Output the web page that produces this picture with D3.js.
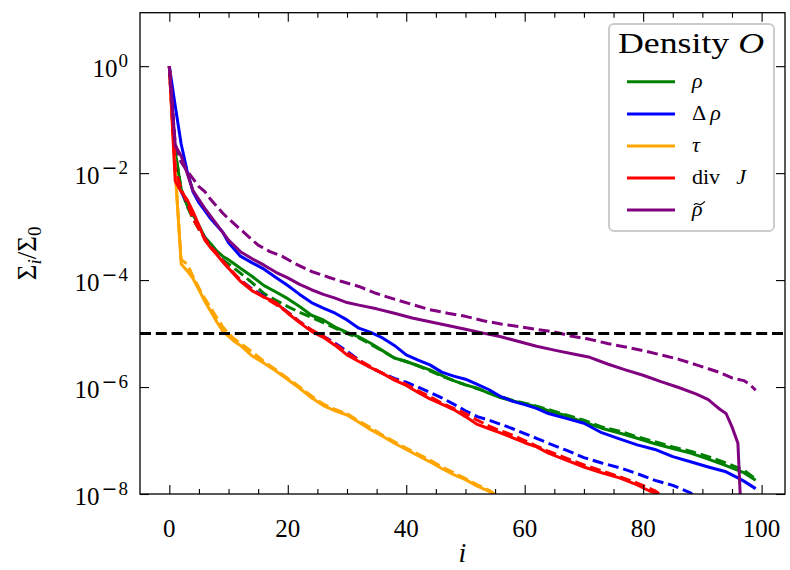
<!DOCTYPE html>
<html>
<head>
<meta charset="utf-8">
<script src="https://cdn.jsdelivr.net/npm/d3@7"></script>
<style>
  body { margin: 0; background: #fff; }
  svg { display: block; }
</style>
</head>
<body>
<svg id="chart" width="790" height="570"></svg>
<script>
// Relative singular values Σ_i/Σ_0 against index i, for each density O.
// Solid: first decomposition, dashed: second decomposition. Pairs are [i, Σ_i/Σ_0].

const rhoSolid = [[0,1],[1,2.5e-2],[2,5.0e-3],[3,2.5e-3],[4,1.66e-3],[5,1.05e-3],[6,6.3e-4],[7,4.8e-4],[8,3.5e-4],[9,2.8e-4],[10,2.4e-4],[12,1.66e-4],[14,1.17e-4],[16,7.9e-5],[18,6.0e-5],[20,4.5e-5],[22,3.2e-5],[24,2.2e-5],[26,1.8e-5],[28,1.32e-5],[30,1.05e-5],[32,8.7e-6],[34,6.6e-6],[36,4.8e-6],[38,3.5e-6],[40,3.0e-6],[42,2.5e-6],[44,2.1e-6],[46,1.66e-6],[48,1.32e-6],[50,1.1e-6],[52,9.5e-7],[54,7.6e-7],[56,6.3e-7],[58,5.5e-7],[60,4.9e-7],[62,4.3e-7],[64,3.6e-7],[67,2.9e-7],[70,2.2e-7],[73,1.7e-7],[76,1.38e-7],[79,1.1e-7],[82,8.7e-8],[85,7.1e-8],[88,5.8e-8],[91,4.5e-8],[94,3.4e-8],[97,2.5e-8],[99,1.8e-8]];
const rhoDashed = [[0,1],[1,2.5e-2],[2,5.0e-3],[3,2.4e-3],[4,1.4e-3],[5,8.9e-4],[6,6.3e-4],[7,4.2e-4],[8,3.2e-4],[9,2.4e-4],[10,2.0e-4],[12,1.35e-4],[14,8.9e-5],[16,5.6e-5],[18,4.2e-5],[20,3.2e-5],[22,2.5e-5],[24,2.0e-5],[26,1.6e-5],[28,1.26e-5],[30,1.0e-5],[32,8.3e-6],[34,6.3e-6],[36,4.7e-6],[38,3.5e-6],[40,3.0e-6],[42,2.5e-6],[44,2.0e-6],[46,1.6e-6],[48,1.32e-6],[50,1.1e-6],[52,9.3e-7],[54,7.9e-7],[56,6.6e-7],[58,5.6e-7],[60,5.0e-7],[62,4.4e-7],[64,3.8e-7],[67,3.0e-7],[70,2.4e-7],[73,1.8e-7],[76,1.5e-7],[79,1.17e-7],[82,9.5e-8],[85,7.6e-8],[88,6.3e-8],[91,5.0e-8],[94,3.8e-8],[97,2.8e-8],[99,1.9e-8]];

const dRhoSolid = [[0,1],[1,1.8e-1],[2,3.5e-2],[3,1.1e-2],[4,4.5e-3],[5,2.8e-3],[6,2.0e-3],[7,1.4e-3],[8,1.05e-3],[9,7.9e-4],[10,5.0e-4],[12,2.8e-4],[14,2.1e-4],[16,1.6e-4],[18,1.12e-4],[20,7.9e-5],[22,5.4e-5],[24,3.8e-5],[26,3.0e-5],[28,2.4e-5],[30,1.8e-5],[32,1.26e-5],[34,1.05e-5],[36,8.3e-6],[38,6.0e-6],[40,4.0e-6],[42,3.2e-6],[44,2.6e-6],[46,1.9e-6],[48,1.6e-6],[50,1.4e-6],[52,1.12e-6],[54,8.9e-7],[56,6.6e-7],[58,5.4e-7],[60,4.7e-7],[62,4.0e-7],[64,3.2e-7],[67,2.6e-7],[70,2.1e-7],[73,1.4e-7],[76,1.07e-7],[79,8.3e-8],[82,6.8e-8],[85,5.0e-8],[88,4.0e-8],[91,3.2e-8],[94,2.6e-8],[96,2.0e-8],[97,1.74e-8],[99,1.26e-8]];
const dRhoDashed = [[0,1],[1,1.26e-2],[2,4.5e-3],[3,2.8e-3],[4,1.6e-3],[5,1.0e-3],[6,6.0e-4],[7,4.2e-4],[8,3.2e-4],[9,2.3e-4],[10,1.66e-4],[12,1.0e-4],[14,6.8e-5],[16,5.0e-5],[18,3.7e-5],[20,2.5e-5],[22,1.66e-5],[24,1.15e-5],[26,8.9e-6],[28,6.6e-6],[30,4.7e-6],[32,3.2e-6],[34,2.3e-6],[36,1.8e-6],[38,1.45e-6],[40,1.23e-6],[42,1.0e-6],[44,7.9e-7],[46,6.3e-7],[48,4.8e-7],[50,3.6e-7],[52,2.8e-7],[54,2.4e-7],[56,2.0e-7],[58,1.66e-7],[60,1.35e-7],[62,1.1e-7],[64,8.9e-8],[67,6.6e-8],[70,4.8e-8],[73,3.8e-8],[76,3.1e-8],[79,2.4e-8],[82,1.8e-8],[85,1.45e-8],[88,1.05e-8],[89,7.9e-9]];

const tauSolid = [[0,1],[1,1.1e-2],[2,2.0e-4],[3,1.5e-4],[4,1.07e-4],[5,6.6e-5],[6,4.0e-5],[7,2.6e-5],[8,1.66e-5],[9,1.12e-5],[10,8.9e-6],[11,7.1e-6],[12,6.0e-6],[14,3.8e-6],[16,2.8e-6],[18,2.0e-6],[20,1.38e-6],[22,9.5e-7],[24,6.3e-7],[26,4.5e-7],[28,3.6e-7],[30,3.0e-7],[32,2.2e-7],[34,1.6e-7],[36,1.2e-7],[38,8.9e-8],[40,6.8e-8],[42,5.2e-8],[44,4.0e-8],[46,3.0e-8],[48,2.3e-8],[50,1.86e-8],[52,1.4e-8],[54,1.12e-8],[56,7.9e-9]];
const tauDashed = [[0,1],[1,1.1e-2],[2,2.4e-4],[3,2.0e-4],[4,1.17e-4],[5,7.1e-5],[6,4.5e-5],[7,3.0e-5],[8,2.0e-5],[9,1.35e-5],[10,1.0e-5],[11,7.9e-6],[12,6.6e-6],[14,4.5e-6],[16,3.0e-6],[18,2.1e-6],[20,1.45e-6],[22,1.0e-6],[24,6.8e-7],[26,4.8e-7],[28,3.8e-7],[30,3.2e-7],[32,2.3e-7],[34,1.74e-7],[36,1.26e-7],[38,9.5e-8],[40,7.2e-8],[42,5.6e-8],[44,4.3e-8],[46,3.2e-8],[48,2.5e-8],[50,1.95e-8],[52,1.48e-8],[54,1.17e-8],[56,8.3e-9]];

const divJSolid = [[0,1],[1,7.1e-3],[2,4.5e-3],[3,3.2e-3],[4,1.9e-3],[5,1.05e-3],[6,5.6e-4],[7,4.0e-4],[8,3.0e-4],[9,2.2e-4],[10,1.66e-4],[12,9.5e-5],[14,6.3e-5],[16,4.8e-5],[18,3.8e-5],[20,2.4e-5],[22,1.6e-5],[24,1.1e-5],[26,8.5e-6],[28,6.0e-6],[30,4.0e-6],[32,3.0e-6],[34,2.3e-6],[36,1.8e-6],[38,1.35e-6],[40,1.07e-6],[42,7.9e-7],[44,6.0e-7],[46,4.8e-7],[48,3.8e-7],[50,2.8e-7],[52,2.0e-7],[54,1.66e-7],[56,1.38e-7],[58,1.12e-7],[60,9.1e-8],[62,7.6e-8],[64,5.8e-8],[67,4.3e-8],[70,3.2e-8],[73,2.5e-8],[76,2.0e-8],[79,1.48e-8],[81,1.15e-8],[82,1.05e-8],[83,7.9e-9]];
const divJDashed = [[0,1],[1,1.26e-2],[2,5.0e-3],[3,2.8e-3],[4,1.4e-3],[5,8.9e-4],[6,6.0e-4],[7,4.2e-4],[8,3.2e-4],[9,2.3e-4],[10,1.74e-4],[12,1.0e-4],[14,6.6e-5],[16,4.8e-5],[18,3.5e-5],[20,2.5e-5],[22,1.66e-5],[24,1.17e-5],[26,8.9e-6],[28,6.3e-6],[30,4.4e-6],[32,3.2e-6],[34,2.4e-6],[36,1.8e-6],[38,1.4e-6],[40,1.12e-6],[42,8.5e-7],[44,6.6e-7],[46,5.0e-7],[48,4.0e-7],[50,3.2e-7],[52,2.4e-7],[54,1.86e-7],[56,1.5e-7],[58,1.26e-7],[60,1.0e-7],[62,7.9e-8],[64,6.3e-8],[67,4.7e-8],[70,3.5e-8],[73,2.7e-8],[76,2.1e-8],[79,1.6e-8],[82,1.15e-8],[84,7.9e-9]];

const rhoTildeSolid = [[0,1],[1,3.3e-2],[2,2.1e-2],[3,1.0e-2],[4,4.7e-3],[5,3.2e-3],[6,2.2e-3],[8,1.1e-3],[10,5.6e-4],[12,3.4e-4],[14,2.5e-4],[16,1.9e-4],[18,1.4e-4],[20,1.1e-4],[22,8.3e-5],[24,6.6e-5],[26,5.4e-5],[28,4.6e-5],[30,3.8e-5],[32,3.4e-5],[35,2.9e-5],[38,2.4e-5],[41,1.95e-5],[44,1.66e-5],[47,1.41e-5],[50,1.2e-5],[53,1.02e-5],[56,8.7e-6],[59,7.1e-6],[62,5.8e-6],[65,4.9e-6],[68,4.2e-6],[71,3.6e-6],[74,2.7e-6],[77,2.1e-6],[80,1.66e-6],[83,1.26e-6],[86,9.8e-7],[89,7.4e-7],[91,5.8e-7],[92,4.7e-7],[93,3.8e-7],[94,3.2e-7],[95,1.8e-7],[96,8.9e-8],[97,3e-10]];
const rhoTildeDashed = [[0,1],[1,3.5e-2],[2,1.6e-2],[3,1.1e-2],[4,7.9e-3],[5,5.6e-3],[6,4.5e-3],[7,3.2e-3],[8,2.4e-3],[9,1.8e-3],[10,1.4e-3],[12,8.9e-4],[13,7.1e-4],[15,4.5e-4],[17,3.4e-4],[19,2.8e-4],[21,2.1e-4],[24,1.45e-4],[27,1.12e-4],[29,9.5e-5],[32,7.6e-5],[35,5.6e-5],[38,4.4e-5],[41,3.5e-5],[44,2.8e-5],[47,2.4e-5],[50,2.1e-5],[53,1.74e-5],[56,1.51e-5],[59,1.35e-5],[62,1.2e-5],[65,1.07e-5],[68,8.9e-6],[71,7.8e-6],[74,6.5e-6],[77,5.6e-6],[80,4.8e-6],[83,4.0e-6],[86,3.3e-6],[89,2.6e-6],[91,2.2e-6],[93,1.86e-6],[95,1.48e-6],[97,1.32e-6],[98,1.12e-6],[99,8.7e-7]];

const xTicks = [0, 20, 40, 60, 80, 100];
const xMinorTicks = [5, 10, 15, 25, 30, 35, 45, 50, 55, 65, 70, 75, 85, 90, 95];
const yTicks = [1, 1e-2, 1e-4, 1e-6, 1e-8];
const threshold = 1e-5;

// Series in drawing order
const densities = [
  { key: "rho",      solid: rhoSolid,      dashed: rhoDashed },
  { key: "dRho",     solid: dRhoSolid,     dashed: dRhoDashed },
  { key: "tau",      solid: tauSolid,      dashed: tauDashed },
  { key: "divJ",     solid: divJSolid,     dashed: divJDashed },
  { key: "rhoTilde", solid: rhoTildeSolid, dashed: rhoTildeDashed }
];
const colors = { rho: "green", dRho: "blue", tau: "orange", divJ: "red", rhoTilde: "purple" };

// ---------- layout ----------
const plot = { left: 140, right: 785, top: 12.7, bottom: 494 };
const serif = "'Liberation Serif', 'Times New Roman', serif";
const lineW = 3;
const dash = "11,4.8";

const x = d3.scaleLinear().domain([-4.95, 103.95]).range([plot.left, plot.right]);
const y = d3.scaleLog().domain([1e-8, 10]).range([plot.bottom, plot.top]);

const svg = d3.select("#chart");
svg.append("rect").attr("width", 790).attr("height", 570).attr("fill", "#fff");

svg.append("defs").append("clipPath").attr("id", "plotClip")
  .append("rect")
  .attr("x", plot.left).attr("y", plot.top)
  .attr("width", plot.right - plot.left).attr("height", plot.bottom - plot.top);

const line = d3.line().x(d => x(d[0])).y(d => y(d[1]));
const lines = svg.append("g").attr("clip-path", "url(#plotClip)");

densities.forEach(s => {
  lines.append("path").datum(s.solid)
    .attr("d", line).attr("fill", "none")
    .attr("stroke", colors[s.key]).attr("stroke-width", lineW)
    .attr("stroke-linejoin", "round");
  lines.append("path").datum(s.dashed)
    .attr("d", line).attr("fill", "none")
    .attr("stroke", colors[s.key]).attr("stroke-width", lineW)
    .attr("stroke-dasharray", dash)
    .attr("stroke-linejoin", "round");
});

// truncation level
lines.append("path")
  .datum(x.domain().map(v => [v, threshold]))
  .attr("d", line).attr("fill", "none")
  .attr("stroke", "#000").attr("stroke-width", 3)
  .attr("stroke-dasharray", dash);

// ---------- axes: inward ticks on all four sides ----------
function tickGroup(axis, tx, ty) {
  const g = svg.append("g").attr("transform", `translate(${tx},${ty})`).call(axis);
  g.select(".domain").remove();
  g.selectAll(".tick line").attr("stroke", "#000").attr("stroke-width", 1.1);
  g.selectAll(".tick text").remove();
  return g;
}
tickGroup(d3.axisBottom(x).tickValues(xTicks).tickSize(-9), 0, plot.bottom);
tickGroup(d3.axisBottom(x).tickValues(xMinorTicks).tickSize(-5), 0, plot.bottom);
tickGroup(d3.axisTop(x).tickValues(xTicks).tickSize(-9), 0, plot.top);
tickGroup(d3.axisTop(x).tickValues(xMinorTicks).tickSize(-5), 0, plot.top);
tickGroup(d3.axisLeft(y).tickValues(yTicks).tickSize(-9), plot.left, 0);
tickGroup(d3.axisRight(y).tickValues(yTicks).tickSize(-9), plot.right, 0);

// frame
svg.append("rect")
  .attr("x", plot.left).attr("y", plot.top)
  .attr("width", plot.right - plot.left).attr("height", plot.bottom - plot.top)
  .attr("fill", "none").attr("stroke", "#000").attr("stroke-width", 1.3);

// x tick labels
svg.append("g").selectAll("text").data(xTicks).join("text")
  .attr("x", d => x(d)).attr("y", 537)
  .attr("text-anchor", "middle")
  .attr("font-family", serif).attr("font-size", 25)
  .text(d => d);

// y tick labels as powers of ten
const yLab = svg.append("g").selectAll("text").data(yTicks).join("text")
  .attr("x", 128).attr("y", d => y(d) + 11)
  .attr("text-anchor", "end")
  .attr("font-family", serif).attr("font-size", 25);
yLab.append("tspan").text("10");
yLab.each(function (d) {
  const e = Math.round(Math.log10(d));
  const t = d3.select(this);
  if (e < 0) {
    t.append("tspan").attr("dy", -10).attr("dx", 2).attr("font-size", 19)
      .attr("font-family", "'DejaVu Sans', sans-serif").text("\u2212");
    t.append("tspan").attr("dx", 1).attr("font-size", 19).text(-e);
  } else {
    t.append("tspan").attr("dy", -10).attr("dx", 1).attr("font-size", 19).text(e);
  }
});

// axis titles
svg.append("text")
  .attr("x", (x(0) + x(100)) / 2 - 3).attr("y", 562)
  .attr("text-anchor", "middle")
  .attr("font-family", serif).attr("font-size", 28).attr("font-style", "italic")
  .text("i");

const yTitle = svg.append("text")
  .attr("transform", `translate(36,${(plot.top + plot.bottom) / 2}) rotate(-90)`)
  .attr("text-anchor", "middle")
  .attr("font-family", serif).attr("font-size", 27);
yTitle.append("tspan").text("\u03A3");
yTitle.append("tspan").attr("font-size", 19).attr("font-style", "italic").attr("dy", 5).text("i");
yTitle.append("tspan").attr("dy", -5).text("/\u03A3");
yTitle.append("tspan").attr("font-size", 19).attr("dy", 5).text("0");

// ---------- legend ----------
const legend = svg.append("g");
legend.append("rect")
  .attr("x", 609).attr("y", 24).attr("width", 165).attr("height", 207)
  .attr("rx", 5).attr("fill", "#fff").attr("fill-opacity", 0.85)
  .attr("stroke", "#cccccc").attr("stroke-width", 2);

const title = legend.append("text")
  .attr("x", 618).attr("y", 53)
  .attr("font-family", serif).attr("font-size", 30)
  .attr("textLength", 146).attr("lengthAdjust", "spacingAndGlyphs");
title.append("tspan").text("Density ");
title.append("tspan").attr("font-style", "italic").text("O");

const rowY = [81.7, 114, 146, 178, 210];
const labelX = 692;
densities.forEach((s, k) => {
  const yy = rowY[k];
  legend.append("line")
    .attr("x1", 627).attr("x2", 675).attr("y1", yy).attr("y2", yy)
    .attr("stroke", colors[s.key]).attr("stroke-width", 3);
  const t = legend.append("text")
    .attr("x", labelX).attr("y", yy + 6)
    .attr("font-family", serif).attr("font-size", 22);
  if (s.key === "rho") {
    t.append("tspan").attr("font-style", "italic").text("\u03C1");
  } else if (s.key === "dRho") {
    t.append("tspan").text("\u0394");
    t.append("tspan").attr("dx", 4).attr("font-style", "italic").text("\u03C1");
  } else if (s.key === "tau") {
    t.append("tspan").attr("font-style", "italic").text("\u03C4");
  } else if (s.key === "divJ") {
    t.append("tspan").text("div");
    t.append("tspan").attr("dx", 16).attr("font-style", "italic").text("J");
  } else {
    t.append("tspan").attr("font-style", "italic").text("\u03C1");
    // tilde accent over rho
    const tx = labelX + 2, ty = yy - 7;
    legend.append("path")
      .attr("d", `M${tx},${ty + 2} C${tx + 2.5},${ty - 2} ${tx + 4.5},${ty + 3} ${tx + 7},${ty + 1.5} S${tx + 10},${ty - 1} ${tx + 11},${ty - 1.5}`)
      .attr("fill", "none").attr("stroke", "#000").attr("stroke-width", 1.2);
  }
});
</script>
</body>
</html>
